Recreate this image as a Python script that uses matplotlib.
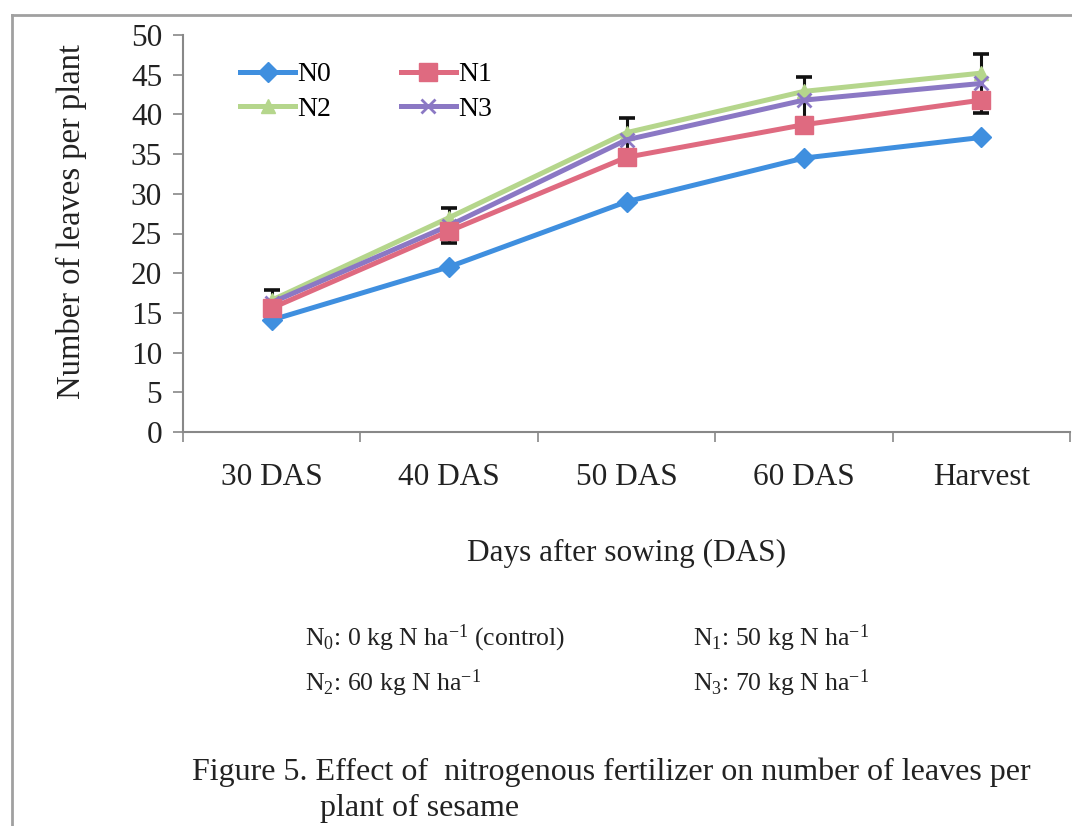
import matplotlib
matplotlib.use("Agg")
import numpy as np
import matplotlib.pyplot as plt
from matplotlib.lines import Line2D

plt.rcParams['font.family'] = ['Liberation Serif', 'DejaVu Serif']
plt.rcParams['mathtext.fontset'] = 'custom'
plt.rcParams['mathtext.rm'] = 'Liberation Serif'
plt.rcParams['mathtext.it'] = 'Liberation Serif:italic'

# sampling stages and leaf counts per nitrogen level
stages = ["30 DAS", "40 DAS", "50 DAS", "60 DAS", "Harvest"]
n0 = [14.1, 20.8, 29.0, 34.5, 37.1]
n1 = [15.6, 25.3, 34.6, 38.7, 41.8]
n2 = [16.6, 27.0, 37.7, 42.9, 45.2]
n3 = [16.3, 26.0, 36.8, 41.8, 43.9]
n3_err = [1.6, 2.2, 2.7, 2.9, 3.7]

W, H = 1072, 826
fig = plt.figure(figsize=(W / 100, H / 100), dpi=100)
fig.patch.set_facecolor("white")

# gray frame round the figure (left and top edges)
fig.add_artist(Line2D([12 / W, 12 / W], [0, 1 - 15 / H], color="#a0a0a0", lw=2))
fig.add_artist(Line2D([12 / W, 1], [1 - 15 / H, 1 - 15 / H], color="#a0a0a0", lw=2))

ax = fig.add_axes([183 / W, 1 - 432 / H, (1070 - 183) / W, (432 - 35) / H])
x = np.arange(len(stages))

ax.errorbar(x, n3, yerr=n3_err, fmt="none", ecolor="#111111",
            elinewidth=2.2, capsize=6, capthick=2.6, zorder=1.5)
l0, = ax.plot(x, n0, color="#3f8fdf", lw=3.6, marker="D", ms=10, label="N0", zorder=3)
l1, = ax.plot(x, n1, color="#df6a80", lw=3.6, marker="s", ms=13, label="N1", zorder=3)
l2, = ax.plot(x, n2, color="#b5d68c", lw=3.6, marker="^", ms=10, label="N2", zorder=2)
l3, = ax.plot(x, n3, color="#8b78c4", lw=3.6, marker="x", ms=10, mew=2, label="N3", zorder=2.5)

ax.set_xlim(-0.5, 4.5)
ax.set_ylim(0, 50)
ax.set_yticks(np.arange(0, 51, 5))
ax.set_xticks(np.arange(-0.5, 4.6, 1), minor=False)
ax.set_xticklabels([])
ax.set_xticks(x, minor=True)
ax.set_xticklabels(stages, minor=True)
ax.tick_params(axis="x", which="minor", length=0, pad=22, labelsize=22.5, labelcolor="#222222")
ax.tick_params(axis="x", which="major", length=7, width=1.2, color="#888888")
ax.tick_params(axis="y", length=7, width=1.2, color="#888888", labelsize=22.5,
               labelcolor="#222222", pad=8)

for side in ["top", "right"]:
    ax.spines[side].set_visible(False)
for side in ["left", "bottom"]:
    ax.spines[side].set_color("#888888")
    ax.spines[side].set_linewidth(1.5)

ax.set_ylabel("Number of leaves per plant", fontsize=23.5, color="#222222")
ax.yaxis.set_label_coords(-0.108, 0.53)
ax.set_xlabel("Days after sowing (DAS)", fontsize=22.5, color="#222222", labelpad=34)

# row-major legend: N0 N1 / N2 N3
ax.legend([l0, l2, l1, l3], ["N0", "N2", "N1", "N3"],
          loc="upper left", bbox_to_anchor=(0.064, 0.932), ncol=2, frameon=False,
          fontsize=20, handlelength=2.0, handletextpad=0.07, columnspacing=2.5,
          labelspacing=0.33, borderpad=0, borderaxespad=0)

# treatment key under the chart
note_kw = dict(fontsize=18.5, color="#222222", va="center", ha="left")
fig.text(305 / W, 1 - 638 / H, r"N$_0$: 0 kg N ha$^{-1}$ (control)", **note_kw)
fig.text(693 / W, 1 - 638 / H, r"N$_1$: 50 kg N ha$^{-1}$", **note_kw)
fig.text(305 / W, 1 - 683 / H, r"N$_2$: 60 kg N ha$^{-1}$", **note_kw)
fig.text(693 / W, 1 - 683 / H, r"N$_3$: 70 kg N ha$^{-1}$", **note_kw)

cap_kw = dict(fontsize=23, color="#222222", va="center", ha="left")
fig.text(192 / W, 1 - 772 / H,
         "Figure 5. Effect of  nitrogenous fertilizer on number of leaves per", **cap_kw)
fig.text(320 / W, 1 - 808 / H, "plant of sesame", **cap_kw)

fig.savefig("out.png", dpi=100, facecolor="white")
